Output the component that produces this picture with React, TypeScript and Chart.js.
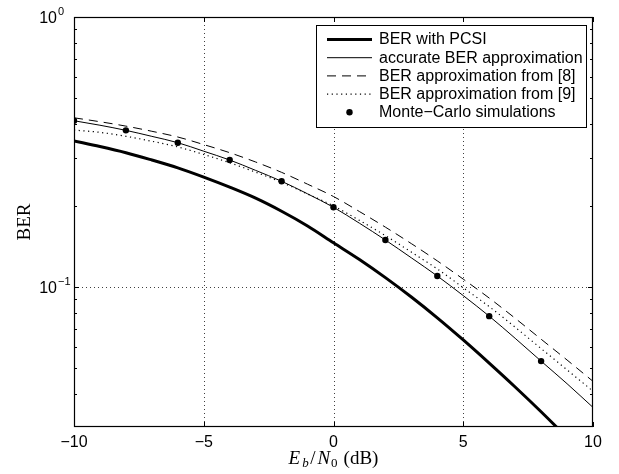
import { useEffect, useRef } from 'react';
import { Chart, registerables } from 'chart.js';

Chart.register(...registerables);

// ---------------- data ----------------
const ebn0 = [-10, -9, -8, -7, -6, -5, -4, -3, -2, -1, 0, 1, 2, 3, 4, 5, 6, 7, 8, 9, 10];
const berPCSI = [0.347, 0.331, 0.314, 0.295, 0.276, 0.255, 0.234, 0.213, 0.1905, 0.168, 0.1455, 0.1262, 0.1081, 0.0916, 0.0767, 0.0635, 0.0521, 0.0425, 0.0344, 0.0276, 0.022];
const berAccurate = [0.4125, 0.397, 0.38, 0.361, 0.342, 0.318, 0.295, 0.27, 0.246, 0.221, 0.197, 0.172, 0.149, 0.128, 0.1096, 0.0927, 0.0778, 0.0644, 0.053, 0.0437, 0.0357];
const berApprox8 = [0.423, 0.409, 0.394, 0.377, 0.359, 0.3365, 0.314, 0.29, 0.2655, 0.24, 0.216, 0.19, 0.1663, 0.1445, 0.1247, 0.1067, 0.0908, 0.0764, 0.0639, 0.0535, 0.0446];
const berApprox9 = [0.381, 0.3735, 0.3612, 0.3462, 0.3298, 0.3093, 0.2881, 0.2659, 0.2439, 0.2208, 0.1993, 0.1762, 0.1547, 0.1344, 0.1164, 0.0992, 0.0844, 0.0708, 0.059, 0.0492, 0.041];
const mcEbn0 = [-10, -8, -6, -4, -2, 0, 2, 4, 6, 8];
const mcBer = [0.4125, 0.38, 0.342, 0.295, 0.246, 0.197, 0.149, 0.1096, 0.0778, 0.053];

const seriesLabels = [
  'BER with PCSI',
  'accurate BER approximation',
  'BER approximation from [8]',
  'BER approximation from [9]',
  'Monte\u2212Carlo simulations',
];

const xMin = -10;
const xMax = 10;
const yMin = 0.0302;
const yMax = 1;
const xTicks = [-10, -5, 0, 5, 10];
const xTickLabels = ['\u221210', '\u22125', '0', '5', '10'];
const xGrid = [-5, 0, 5];
const yMajorTicks = [0.1, 1];
const yTickExponents = ['\u22121', '0'];
const yMinorTicks = [0.04, 0.05, 0.06, 0.07, 0.08, 0.09, 0.2, 0.3, 0.4, 0.5, 0.6, 0.7, 0.8, 0.9];
const yGrid = [0.1];

const SANS = '"Liberation Sans", Arial, sans-serif';
const SERIF = '"Liberation Serif", "Times New Roman", serif';

const matlabPlugin = {
  id: 'matlabStyle',
  beforeDatasetsDraw(chart: any) {
    const { ctx, chartArea: a, scales } = chart;
    const x = scales.x;
    const y = scales.y;
    ctx.save();
    ctx.strokeStyle = 'rgba(0,0,0,0.75)';
    ctx.lineWidth = 1;
    ctx.setLineDash([1, 3]);
    xGrid.forEach((v) => {
      const px = Math.round(x.getPixelForValue(v)) + 0.5;
      ctx.beginPath();
      ctx.moveTo(px, a.top);
      ctx.lineTo(px, a.bottom);
      ctx.stroke();
    });
    yGrid.forEach((v) => {
      const py = Math.round(y.getPixelForValue(v)) + 0.5;
      ctx.beginPath();
      ctx.moveTo(a.left, py);
      ctx.lineTo(a.right, py);
      ctx.stroke();
    });
    ctx.restore();
  },
  afterDatasetsDraw(chart: any) {
    const { ctx, chartArea: a, scales } = chart;
    const x = scales.x;
    const y = scales.y;
    ctx.save();
    ctx.setLineDash([]);
    ctx.strokeStyle = '#000';
    ctx.fillStyle = '#000';
    ctx.lineWidth = 1.2;

    // frame
    ctx.strokeRect(a.left + 0.5, a.top + 0.5, a.right - a.left - 1, a.bottom - a.top - 1);

    // ticks
    ctx.lineWidth = 1;
    const majorLen = 5;
    const minorLen = 3;
    ctx.beginPath();
    xTicks.forEach((v) => {
      const px = Math.round(x.getPixelForValue(v)) + 0.5;
      ctx.moveTo(px, a.bottom);
      ctx.lineTo(px, a.bottom - majorLen);
      ctx.moveTo(px, a.top);
      ctx.lineTo(px, a.top + majorLen);
    });
    yMajorTicks.forEach((v) => {
      const py = Math.round(y.getPixelForValue(v)) + 0.5;
      ctx.moveTo(a.left, py);
      ctx.lineTo(a.left + majorLen, py);
      ctx.moveTo(a.right, py);
      ctx.lineTo(a.right - majorLen, py);
    });
    yMinorTicks.forEach((v) => {
      const py = Math.round(y.getPixelForValue(v)) + 0.5;
      ctx.moveTo(a.left, py);
      ctx.lineTo(a.left + minorLen, py);
      ctx.moveTo(a.right, py);
      ctx.lineTo(a.right - minorLen, py);
    });
    ctx.stroke();

    // x tick labels
    ctx.font = `16px ${SANS}`;
    ctx.textAlign = 'center';
    ctx.textBaseline = 'alphabetic';
    xTicks.forEach((v, i) => {
      ctx.fillText(xTickLabels[i], x.getPixelForValue(v), a.bottom + 20);
    });

    // y tick labels 10^n
    yMajorTicks.forEach((v, i) => {
      const py = y.getPixelForValue(v);
      ctx.font = `16px ${SANS}`;
      ctx.textAlign = 'right';
      ctx.fillText('10', a.left - 17, py + 6);
      ctx.font = `11px ${SANS}`;
      ctx.textAlign = 'left';
      ctx.fillText(yTickExponents[i], a.left - 16, py - 2);
    });

    // y title
    ctx.save();
    ctx.translate(a.left - 44, (a.top + a.bottom) / 2);
    ctx.rotate(-Math.PI / 2);
    ctx.font = `19px ${SERIF}`;
    ctx.textAlign = 'center';
    ctx.fillText('BER', 0, 0);
    ctx.restore();

    // x title: E_b/N_0 (dB)
    const parts: [string, string, number, number][] = [
      ['E', `italic 19px ${SERIF}`, 0, 2],
      ['b', `italic 13px ${SERIF}`, 3, 1.5],
      ['/', `19px ${SERIF}`, 0, 2],
      ['N', `italic 19px ${SERIF}`, 0, 1],
      ['0', `13px ${SERIF}`, 3, 6],
      ['(dB)', `19px ${SERIF}`, 0, 0],
    ];
    let total = 0;
    const widths = parts.map(([t, f, , gap]) => {
      ctx.font = f;
      const w = ctx.measureText(t).width + gap;
      total += w;
      return w;
    });
    let cx = (a.left + a.right) / 2 - total / 2;
    const base = a.bottom + 37;
    ctx.textAlign = 'left';
    parts.forEach(([t, f, dy], i) => {
      ctx.font = f;
      ctx.fillText(t, cx, base + dy);
      cx += widths[i];
    });

    // legend
    const lx0 = 316.5;
    const ly0 = 25.5;
    const lx1 = 586.5;
    const ly1 = 127.5;
    ctx.fillStyle = '#fff';
    ctx.fillRect(lx0, ly0, lx1 - lx0, ly1 - ly0);
    ctx.strokeStyle = '#000';
    ctx.lineWidth = 1;
    ctx.strokeRect(lx0, ly0, lx1 - lx0, ly1 - ly0);
    const rowY0 = 39.5;
    const rowStep = 18.2;
    chart.data.datasets.forEach((ds: any, i: number) => {
      const ry = rowY0 + i * rowStep;
      ctx.strokeStyle = '#000';
      ctx.fillStyle = '#000';
      if (ds.showLine === false) {
        ctx.beginPath();
        ctx.arc(349.5, ry, ds.pointRadius, 0, Math.PI * 2);
        ctx.fill();
      } else {
        ctx.lineWidth = ds.borderWidth;
        ctx.setLineDash(ds.borderDash || []);
        ctx.beginPath();
        ctx.moveTo(327, ry);
        ctx.lineTo(372, ry);
        ctx.stroke();
        ctx.setLineDash([]);
      }
      ctx.font = `16px ${SANS}`;
      ctx.textAlign = 'left';
      ctx.textBaseline = 'middle';
      ctx.fillText(ds.label, 379, ry + 0.5);
    });
    ctx.restore();
  },
};

const toPoints = (xs: number[], ys: number[]) => xs.map((v, i) => ({ x: v, y: ys[i] }));

export default function App() {
  const canvasRef = useRef<HTMLCanvasElement | null>(null);

  useEffect(() => {
    document.body.style.margin = '0';
    const canvas = canvasRef.current;
    if (!canvas) return;
    const lineBase = {
      type: 'line' as const,
      borderColor: '#000',
      backgroundColor: '#000',
      pointRadius: 0,
      fill: false,
      cubicInterpolationMode: 'monotone' as const,
    };
    const chart = new Chart(canvas, {
      type: 'line',
      data: {
        datasets: [
          { ...lineBase, label: seriesLabels[0], data: toPoints(ebn0, berPCSI), borderWidth: 3, borderDash: [] },
          { ...lineBase, label: seriesLabels[1], data: toPoints(ebn0, berAccurate), borderWidth: 1, borderDash: [] },
          { ...lineBase, label: seriesLabels[2], data: toPoints(ebn0, berApprox8), borderWidth: 1, borderDash: [9, 6] },
          { ...lineBase, label: seriesLabels[3], data: toPoints(ebn0, berApprox9), borderWidth: 1.2, borderDash: [1.2, 3.5] },
          {
            type: 'line' as const,
            label: seriesLabels[4],
            data: toPoints(mcEbn0, mcBer),
            showLine: false,
            pointRadius: 3.2,
            pointBackgroundColor: '#000',
            pointBorderWidth: 0,
            borderColor: '#000',
            backgroundColor: '#000',
          },
        ],
      } as any,
      options: {
        responsive: false,
        animation: false,
        layout: { padding: { left: 74, top: 17, right: 26, bottom: 47 } },
        scales: {
          x: { type: 'linear', min: xMin, max: xMax, display: false },
          y: { type: 'logarithmic', min: yMin, max: yMax, display: false },
        },
        plugins: {
          legend: { display: false },
          tooltip: { enabled: false },
        },
      },
      plugins: [matlabPlugin],
    });
    return () => chart.destroy();
  }, []);

  return (
    <div style={{ position: 'absolute', left: 0, top: 0, width: 619, height: 474, background: '#fff' }}>
      <canvas ref={canvasRef} width={619} height={474} style={{ display: 'block' }} />
    </div>
  );
}
